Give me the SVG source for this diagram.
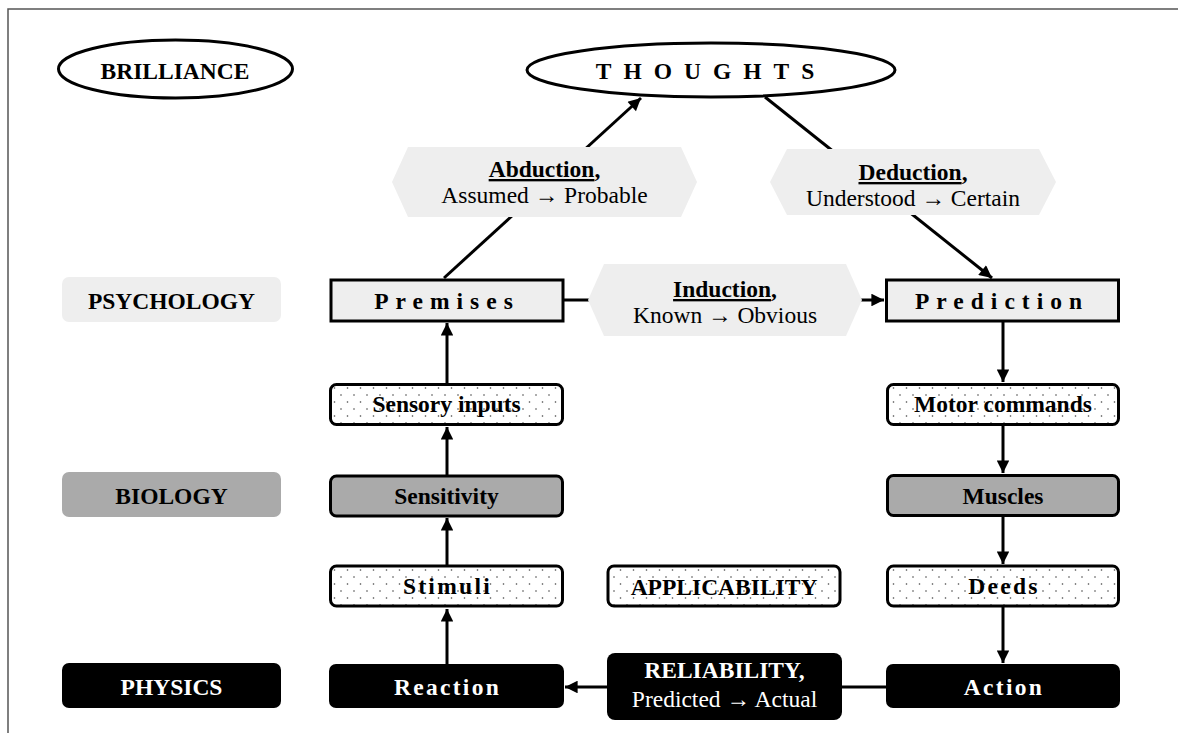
<svg xmlns="http://www.w3.org/2000/svg" width="1178" height="733" viewBox="0 0 1178 733">
<style>
.t{font-family:"Liberation Serif","Times New Roman",serif;font-size:23.5px;text-anchor:middle}
.b{font-weight:bold}
.w{fill:#fff}
.box{stroke:#000;stroke-width:3}
.lt{fill:#eeeeee}
.md{fill:#aaaaaa}
.dk{fill:#000}
.hex{fill:#eeeeee;stroke:none}
.conn{stroke:#000;stroke-width:3;fill:none}
</style>
<defs>
<pattern id="dots" width="13" height="14" patternUnits="userSpaceOnUse">
<rect width="13" height="14" fill="#fff"/>
<circle cx="3" cy="3" r="0.8" fill="#444"/>
<circle cx="9.5" cy="10" r="0.8" fill="#444"/>
</pattern>
<marker id="ah" viewBox="0 0 10 10" refX="10" refY="5" markerWidth="4.8" markerHeight="4.2" markerUnits="strokeWidth" orient="auto">
<path d="M0,0 L10,5 L0,10 z" fill="#000"/>
</marker>
</defs>
<rect width="1178" height="733" fill="#fff"/>
<path d="M8,733 V9 H1178" fill="none" stroke="#555" stroke-width="1.5"/>

<g id="connectors">
<line class="conn" x1="444" y1="278" x2="641" y2="98" marker-end="url(#ah)"/>
<line class="conn" x1="765" y1="97" x2="992" y2="278" marker-end="url(#ah)"/>
<line class="conn" x1="564" y1="300" x2="600" y2="300"/>
<line class="conn" x1="850" y1="300" x2="884" y2="300" marker-end="url(#ah)"/>
<line class="conn" x1="447" y1="383" x2="447" y2="323" marker-end="url(#ah)"/>
<line class="conn" x1="447" y1="475" x2="447" y2="427" marker-end="url(#ah)"/>
<line class="conn" x1="447" y1="565" x2="447" y2="518" marker-end="url(#ah)"/>
<line class="conn" x1="447" y1="664" x2="447" y2="609" marker-end="url(#ah)"/>
<line class="conn" x1="1003" y1="322" x2="1003" y2="382" marker-end="url(#ah)"/>
<line class="conn" x1="1003" y1="426" x2="1003" y2="473" marker-end="url(#ah)"/>
<line class="conn" x1="1003" y1="517" x2="1003" y2="564" marker-end="url(#ah)"/>
<line class="conn" x1="1003" y1="607" x2="1003" y2="663" marker-end="url(#ah)"/>
<line class="conn" x1="886" y1="687" x2="840" y2="687"/>
<line class="conn" x1="607" y1="687" x2="565" y2="687" marker-end="url(#ah)"/>
</g>

<g id="brilliance">
<ellipse cx="175.5" cy="69" rx="117" ry="29" fill="#fff" stroke="#000" stroke-width="3"/>
<text class="t b" x="175" y="79">BRILLIANCE</text>
</g>
<g id="thoughts">
<ellipse cx="711" cy="70" rx="184" ry="27" fill="#fff" stroke="#000" stroke-width="3"/>
<text class="t b" x="711" y="79" letter-spacing="12">THOUGHTS</text>
</g>

<g id="abduction">
<polygon class="hex" points="392,182 408,147 681,147 697,182 681,217 408,217"/>
<text class="t b" x="544.5" y="177"><tspan text-decoration="underline">Abduction</tspan>,</text>
<text class="t" x="544.5" y="203">Assumed → Probable</text>
</g>
<g id="deduction">
<polygon class="hex" points="770,182 787,149 1039,149 1056,182 1039,215 787,215"/>
<text class="t b" x="913" y="180"><tspan text-decoration="underline">Deduction</tspan>,</text>
<text class="t" x="913" y="206">Understood → Certain</text>
</g>
<g id="induction">
<polygon class="hex" points="588,300 604,264 846,264 862,300 846,336 604,336"/>
<text class="t b" x="725" y="297"><tspan text-decoration="underline">Induction</tspan>,</text>
<text class="t" x="725" y="323">Known → Obvious</text>
</g>

<g id="psychology">
<rect class="lt" x="62" y="277" width="219" height="45" rx="7"/>
<text class="t b" x="171.5" y="309">PSYCHOLOGY</text>
</g>
<g id="biology">
<rect class="md" x="62" y="472" width="219" height="45" rx="7"/>
<text class="t b" x="171.5" y="504">BIOLOGY</text>
</g>
<g id="physics">
<rect class="dk" x="62" y="663" width="219" height="45" rx="7"/>
<text class="t b w" x="171.5" y="695">PHYSICS</text>
</g>

<g id="premises">
<rect class="box lt" x="331" y="280" width="232" height="41"/>
<text class="t b" x="447" y="309" letter-spacing="7">Premises</text>
</g>
<g id="prediction">
<rect class="box lt" x="886.5" y="280" width="232" height="41"/>
<text class="t b" x="1002" y="309" letter-spacing="7">Prediction</text>
</g>
<g id="sensory-inputs">
<rect class="box" fill="url(#dots)" x="330.5" y="384.5" width="232" height="40" rx="6"/>
<text class="t b" x="446.5" y="412">Sensory inputs</text>
</g>
<g id="motor-commands">
<rect class="box" fill="url(#dots)" x="887.5" y="384.5" width="231" height="40" rx="6"/>
<text class="t b" x="1003" y="412">Motor commands</text>
</g>
<g id="sensitivity">
<rect class="box md" x="330.5" y="476" width="232" height="40" rx="6"/>
<text class="t b" x="446.5" y="504">Sensitivity</text>
</g>
<g id="muscles">
<rect class="box md" x="887.5" y="475.5" width="231" height="40" rx="6"/>
<text class="t b" x="1003" y="504">Muscles</text>
</g>
<g id="stimuli">
<rect class="box" fill="url(#dots)" x="330.5" y="566" width="232" height="40" rx="6"/>
<text class="t b" x="447.5" y="594" letter-spacing="2.3">Stimuli</text>
</g>
<g id="applicability">
<rect class="box" fill="url(#dots)" x="608" y="566" width="232" height="40" rx="6"/>
<text class="t b" x="724" y="595">APPLICABILITY</text>
</g>
<g id="deeds">
<rect class="box" fill="url(#dots)" x="887.5" y="566" width="231" height="40" rx="6"/>
<text class="t b" x="1004" y="594" letter-spacing="2.3">Deeds</text>
</g>
<g id="reaction">
<rect class="dk" x="329" y="664" width="235" height="44" rx="7"/>
<text class="t b w" x="447.5" y="695" letter-spacing="2.3">Reaction</text>
</g>
<g id="reliability">
<rect class="dk" x="607" y="653" width="235" height="67" rx="8"/>
<text class="t b w" x="724.5" y="678">RELIABILITY,</text>
<text class="t w" x="724.5" y="707">Predicted → Actual</text>
</g>
<g id="action">
<rect class="dk" x="886" y="664" width="234" height="44" rx="7"/>
<text class="t b w" x="1004" y="695" letter-spacing="2.3">Action</text>
</g>
</svg>
